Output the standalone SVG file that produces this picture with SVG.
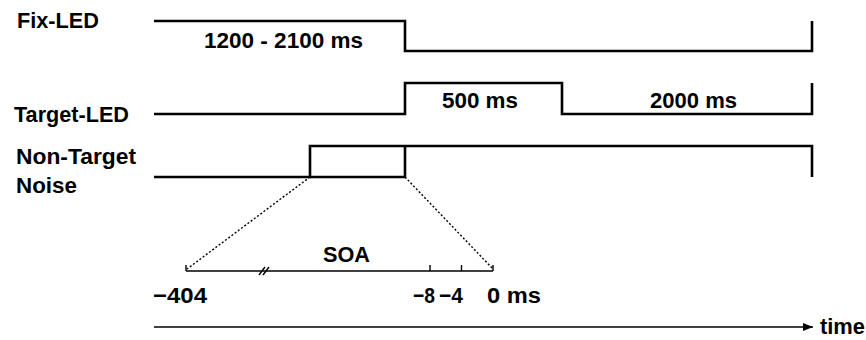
<svg xmlns="http://www.w3.org/2000/svg" width="866" height="340" viewBox="0 0 866 340">
  <defs>
    <style>
      .lbl { font-family: "Liberation Sans", Arial, sans-serif; font-weight: bold; font-size: 22px; fill: #000; }
      .sig { fill: none; stroke: #000; stroke-width: 2.6; stroke-linejoin: miter; stroke-linecap: butt; }
      .axis { fill: none; stroke: #000; stroke-width: 1.4; }
      .dots { fill: none; stroke: #000; stroke-width: 1.4; stroke-dasharray: 2 2; }
    </style>
    <marker id="arrow" viewBox="0 0 10 8" refX="10" refY="4" markerWidth="10" markerHeight="8" markerUnits="userSpaceOnUse" orient="auto">
      <path d="M0,0 L10,4 L0,8 Z" fill="#000"/>
    </marker>
  </defs>
  <rect width="866" height="340" fill="#fff"/>

  <!-- signal channels -->
  <g id="fix-led">
    <text class="lbl" x="17" y="28" textLength="82" lengthAdjust="spacingAndGlyphs">Fix-LED</text>
    <path class="sig" d="M154,21 H405 V51 H812 V21"/>
    <text class="lbl" x="204" y="48" textLength="159" lengthAdjust="spacingAndGlyphs">1200 - 2100 ms</text>
  </g>

  <g id="target-led">
    <text class="lbl" x="14" y="122" textLength="115" lengthAdjust="spacingAndGlyphs">Target-LED</text>
    <path class="sig" d="M154,114 H405 V83 H562 V114 H812 V83"/>
    <text class="lbl" x="442" y="108" textLength="76" lengthAdjust="spacingAndGlyphs">500 ms</text>
    <text class="lbl" x="650" y="108" textLength="87" lengthAdjust="spacingAndGlyphs">2000 ms</text>
  </g>

  <g id="non-target-noise">
    <text class="lbl" x="16" y="164" textLength="120" lengthAdjust="spacingAndGlyphs">Non-Target</text>
    <text class="lbl" x="16" y="193" textLength="61" lengthAdjust="spacingAndGlyphs">Noise</text>
    <path class="sig" d="M154,177 H310 V146 H812 V177"/>
    <path class="sig" d="M310,177 H405 V146"/>
  </g>

  <!-- SOA inset axis -->
  <g id="soa-axis">
    <path class="axis" d="M186,271 H493"/>
    <path class="axis" d="M186,271 V265 M430,271 V265 M461.5,271 V265 M493,271 V265"/>
    <path class="axis" d="M259,275 L265,267 M263,275 L269,267"/>
    <text class="lbl" x="323" y="262" textLength="47" lengthAdjust="spacingAndGlyphs">SOA</text>
    <text class="lbl" x="153" y="303" textLength="54" lengthAdjust="spacingAndGlyphs">−404</text>
    <text class="lbl" x="413" y="303" textLength="22" lengthAdjust="spacingAndGlyphs">−8</text>
    <text class="lbl" x="439" y="303" textLength="24" lengthAdjust="spacingAndGlyphs">−4</text>
    <text class="lbl" x="487" y="303" textLength="54" lengthAdjust="spacingAndGlyphs">0 ms</text>
  </g>

  <!-- connectors -->
  <g id="connectors">
    <path class="dots" d="M310,177 L187,269"/>
    <path class="dots" d="M405,177 L493,269"/>
    <path class="axis" d="M154,327 H813" marker-end="url(#arrow)"/>
  </g>

  <g id="time-label">
    <text class="lbl" x="820" y="334" textLength="45" lengthAdjust="spacingAndGlyphs">time</text>
  </g>
</svg>
